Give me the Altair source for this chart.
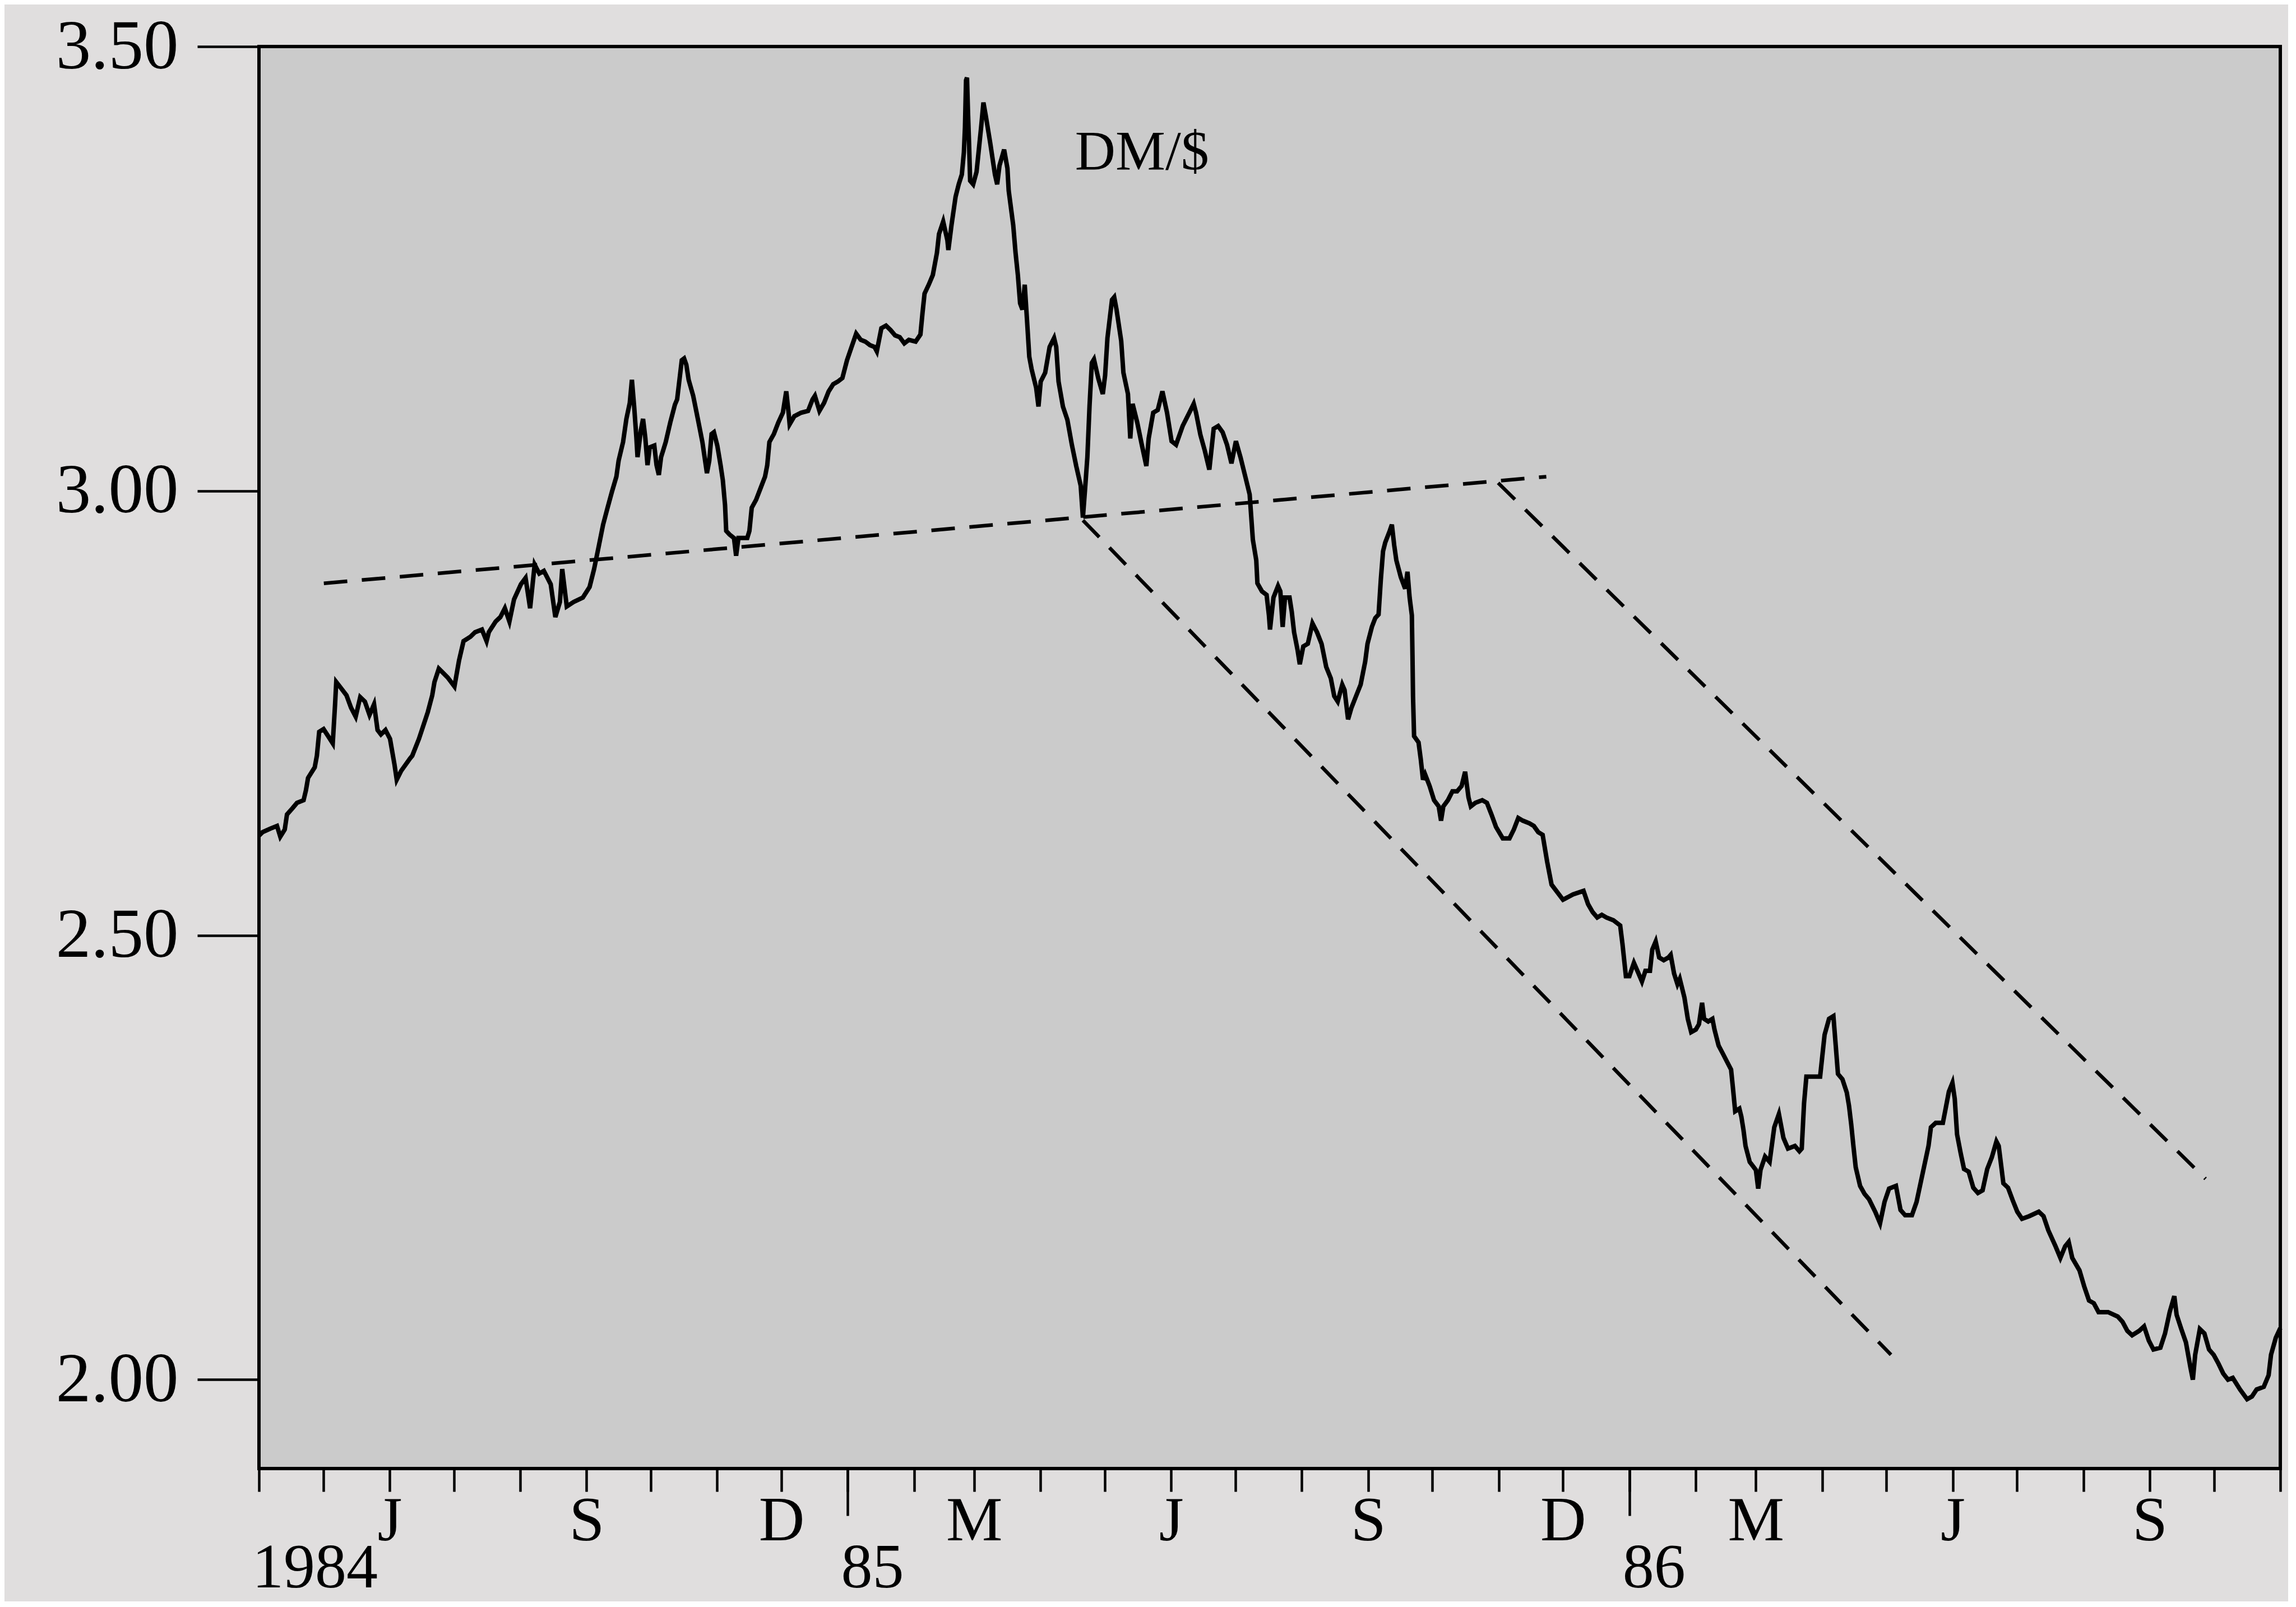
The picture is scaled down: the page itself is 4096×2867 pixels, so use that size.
import altair as alt
import pandas as pd

# ---------------- data ----------------
# position along the time axis, in months since 1 April 1984 (read off the monthly ticks)
month_pos = [
    0.000, 0.056, 0.177, 0.280, 0.332, 0.401, 0.436, 0.522, 0.591, 0.695, 0.730, 0.764, 0.868, 0.902, 0.937,
    1.006, 1.075, 1.144, 1.179, 1.196, 1.248, 1.351, 1.420, 1.489, 1.558, 1.628, 1.697, 1.766, 1.818, 1.869, 1.938,
    2.007, 2.077, 2.111, 2.180, 2.318, 2.353, 2.457, 2.595, 2.664, 2.698, 2.767, 2.836, 2.906,
    3.009, 3.078, 3.147, 3.251, 3.320, 3.424, 3.493, 3.527, 3.631, 3.700, 3.769, 3.838, 3.907,
    4.011, 4.080, 4.149, 4.218, 4.287, 4.356, 4.460, 4.529, 4.598, 4.633, 4.702, 4.805, 4.943,
    5.047, 5.116, 5.185, 5.257, 5.326, 5.395, 5.464, 5.499, 5.568, 5.620, 5.672, 5.706, 5.741, 5.775, 5.793,
    5.844, 5.879, 5.914, 5.948, 5.983,
    6.052, 6.086, 6.121, 6.155, 6.224, 6.293, 6.363, 6.397, 6.432, 6.466, 6.501, 6.535, 6.570, 6.639, 6.708,
    6.777, 6.846, 6.881, 6.915, 6.950,
    7.001, 7.053, 7.088, 7.122, 7.140, 7.191, 7.261, 7.295, 7.330, 7.399, 7.468, 7.502, 7.537, 7.606, 7.675,
    7.744, 7.779, 7.813, 7.882, 7.952,
    8.021, 8.072, 8.107, 8.124, 8.193, 8.297, 8.400, 8.469, 8.504, 8.573, 8.642, 8.711, 8.780, 8.849, 8.918, 8.988,
    9.057, 9.126, 9.195, 9.264, 9.333, 9.402, 9.437, 9.506, 9.575, 9.644, 9.713, 9.782, 9.851, 9.920,
    10.024, 10.104, 10.138, 10.173, 10.242, 10.311, 10.380, 10.414, 10.484, 10.553, 10.570, 10.622, 10.691,
    10.743, 10.794, 10.829, 10.846, 10.864, 10.881, 10.898, 10.915, 10.933, 10.984,
    11.036, 11.105, 11.140, 11.174, 11.243, 11.313, 11.347, 11.382, 11.451, 11.502, 11.520, 11.589, 11.623,
    11.658, 11.692, 11.727, 11.762, 11.796, 11.831, 11.865, 11.934, 11.969,
    12.003, 12.072, 12.141, 12.211, 12.245, 12.280, 12.349, 12.418, 12.487, 12.556, 12.625, 12.660, 12.694,
    12.729, 12.763, 12.798, 12.832, 12.901, 12.970,
    13.005, 13.040, 13.109, 13.143, 13.178, 13.247, 13.281, 13.350, 13.385, 13.419, 13.489, 13.558, 13.627,
    13.661, 13.730, 13.799, 13.868, 13.938,
    14.007, 14.076, 14.179, 14.283, 14.352, 14.387, 14.456, 14.525, 14.594, 14.663, 14.732, 14.801, 14.870, 14.939,
    15.008, 15.077, 15.146, 15.215, 15.263, 15.315, 15.332, 15.401, 15.470, 15.505, 15.522, 15.574, 15.643,
    15.678, 15.712, 15.747, 15.816, 15.850, 15.885, 15.937, 15.971,
    16.023, 16.092, 16.161, 16.230, 16.299, 16.368, 16.438, 16.489, 16.541, 16.610, 16.645, 16.697, 16.748,
    16.817, 16.887, 16.956, 16.990,
    17.059, 17.111, 17.163, 17.197, 17.232, 17.267, 17.336, 17.370, 17.405, 17.439, 17.508, 17.577, 17.612,
    17.646, 17.681, 17.690, 17.698, 17.715, 17.785, 17.819, 17.854, 17.888, 17.957,
    18.026, 18.095, 18.130, 18.165, 18.234, 18.303, 18.372, 18.441, 18.493, 18.544, 18.579, 18.648, 18.752,
    18.821, 18.890, 18.959,
    19.063, 19.166, 19.235, 19.304, 19.373, 19.477, 19.546, 19.615, 19.684, 19.753, 19.822,
    20.000, 20.150, 20.309, 20.378, 20.447, 20.516, 20.585, 20.654, 20.758, 20.862, 20.896, 20.948,
    21.000, 21.069, 21.138, 21.190, 21.242, 21.311, 21.345, 21.397, 21.449, 21.518, 21.587, 21.622, 21.673,
    21.725, 21.760, 21.829, 21.881, 21.932,
    22.001, 22.053, 22.105, 22.140, 22.209, 22.278, 22.312, 22.381, 22.451, 22.520, 22.589, 22.623, 22.658,
    22.727, 22.761, 22.796, 22.830, 22.900,
    23.003, 23.038, 23.072, 23.141, 23.210, 23.280, 23.349, 23.418, 23.487, 23.590, 23.659, 23.694, 23.728,
    23.763, 23.832, 23.970,
    24.039, 24.108, 24.177, 24.212, 24.247, 24.316, 24.385, 24.419, 24.454, 24.488, 24.523, 24.592, 24.661,
    24.730, 24.834, 24.903, 24.972,
    25.041, 25.145, 25.214, 25.283, 25.386, 25.455, 25.524, 25.636, 25.672, 25.744, 25.852, 25.888, 25.942, 25.996,
    26.032, 26.068, 26.123, 26.177, 26.249, 26.321, 26.393, 26.465, 26.537, 26.609, 26.681, 26.717, 26.753,
    26.789, 26.861, 26.933,
    27.005, 27.077, 27.185, 27.329, 27.401, 27.473, 27.582, 27.654, 27.726, 27.780, 27.834, 27.942,
    28.014, 28.086, 28.158, 28.230, 28.374, 28.519, 28.591, 28.663, 28.735, 28.843, 28.915, 28.987,
    29.059, 29.167, 29.239, 29.311, 29.383, 29.419, 29.491, 29.564, 29.636, 29.672, 29.708, 29.780, 29.852,
    29.924, 29.996,
    30.068, 30.140, 30.212, 30.284, 30.392, 30.500, 30.572, 30.644, 30.752, 30.824, 30.860, 30.932, 31.000,
]

# Deutsche Mark per US dollar
dm_per_usd = [
    2.612, 2.616, 2.620, 2.623, 2.611, 2.619, 2.636, 2.643, 2.649, 2.652, 2.663, 2.677, 2.689, 2.702, 2.729,
    2.732, 2.724, 2.716, 2.760, 2.785, 2.780, 2.770, 2.756, 2.746, 2.768, 2.763, 2.748, 2.760, 2.731, 2.726, 2.731,
    2.721, 2.692, 2.675, 2.685, 2.699, 2.702, 2.721, 2.751, 2.770, 2.785, 2.800, 2.795, 2.790,
    2.780, 2.809, 2.831, 2.836, 2.841, 2.844, 2.831, 2.841, 2.853, 2.858, 2.868, 2.853, 2.878,
    2.895, 2.902, 2.868, 2.917, 2.907, 2.910, 2.895, 2.858, 2.875, 2.912, 2.870, 2.875, 2.880,
    2.892, 2.912, 2.936, 2.962, 2.981, 2.999, 3.016, 3.034, 3.055, 3.081, 3.099, 3.125, 3.094, 3.060, 3.038,
    3.068, 3.081, 3.060, 3.029, 3.049,
    3.051, 3.029, 3.018, 3.038, 3.055, 3.077, 3.097, 3.103, 3.125, 3.147, 3.149, 3.142, 3.125, 3.107, 3.081,
    3.055, 3.020, 3.034, 3.064, 3.066,
    3.051, 3.029, 3.012, 2.984, 2.955, 2.951, 2.947, 2.927, 2.947, 2.947, 2.947, 2.955, 2.981, 2.990, 3.003,
    3.016, 3.029, 3.055, 3.064, 3.077,
    3.088, 3.112, 3.088, 3.075, 3.084, 3.088, 3.090, 3.103, 3.107, 3.090, 3.099, 3.112, 3.120, 3.123, 3.127, 3.147,
    3.162, 3.177, 3.170, 3.168, 3.164, 3.162, 3.157, 3.183, 3.186, 3.181, 3.175, 3.173, 3.166, 3.170,
    3.168, 3.176, 3.200, 3.222, 3.232, 3.243, 3.268, 3.289, 3.303, 3.282, 3.271, 3.299, 3.331,
    3.345, 3.356, 3.381, 3.409, 3.462, 3.465, 3.426, 3.391, 3.349, 3.345,
    3.359, 3.409, 3.437, 3.423, 3.391, 3.356, 3.345, 3.366, 3.384, 3.363, 3.338, 3.299, 3.268,
    3.243, 3.211, 3.204, 3.232, 3.193, 3.151, 3.137, 3.116, 3.095,
    3.123, 3.133, 3.162, 3.172, 3.162, 3.123, 3.095, 3.080, 3.052, 3.028, 3.006, 2.970, 3.003,
    3.038, 3.095, 3.144, 3.148, 3.126, 3.109,
    3.130, 3.172, 3.215, 3.218, 3.204, 3.169, 3.133, 3.109, 3.059, 3.098, 3.077, 3.052, 3.028,
    3.059, 3.088, 3.091, 3.112, 3.088,
    3.056, 3.052, 3.073, 3.088, 3.098, 3.088, 3.063, 3.045, 3.024, 3.070, 3.073, 3.066, 3.052, 3.031,
    3.056, 3.038, 3.017, 2.996, 2.945, 2.922, 2.896, 2.887, 2.883, 2.860, 2.844, 2.880, 2.893,
    2.887, 2.847, 2.880, 2.880, 2.864, 2.841, 2.821, 2.805,
    2.825, 2.828, 2.851, 2.841, 2.828, 2.802, 2.789, 2.769, 2.763, 2.782, 2.776, 2.743, 2.756,
    2.769, 2.782, 2.808, 2.828,
    2.847, 2.857, 2.861, 2.900, 2.932, 2.942, 2.955, 2.962, 2.939, 2.922, 2.903, 2.890, 2.909,
    2.880, 2.860, 2.815, 2.769, 2.724, 2.717, 2.698, 2.675, 2.681, 2.668,
    2.652, 2.645, 2.629, 2.645, 2.652, 2.662, 2.662, 2.668, 2.684, 2.655, 2.645, 2.649, 2.652,
    2.649, 2.636, 2.622,
    2.609, 2.609, 2.619, 2.632, 2.629, 2.626, 2.623, 2.616, 2.613, 2.583, 2.557,
    2.540, 2.546, 2.550, 2.535, 2.526, 2.520, 2.523, 2.520, 2.517, 2.511, 2.490, 2.454,
    2.454, 2.469, 2.457, 2.448, 2.460, 2.460, 2.484, 2.493, 2.475, 2.472, 2.475, 2.478, 2.457,
    2.445, 2.451, 2.430, 2.406, 2.391,
    2.394, 2.400, 2.424, 2.406, 2.403, 2.406, 2.394, 2.376, 2.367, 2.358, 2.349, 2.326, 2.302,
    2.305, 2.296, 2.281, 2.263, 2.245,
    2.236, 2.215, 2.236, 2.251, 2.245, 2.284, 2.299, 2.272, 2.260, 2.263, 2.257, 2.260, 2.311,
    2.341, 2.341, 2.341,
    2.388, 2.406, 2.409, 2.376, 2.344, 2.338, 2.323, 2.308, 2.287, 2.263, 2.239, 2.218, 2.209,
    2.203, 2.188, 2.176, 2.200,
    2.215, 2.218, 2.191, 2.185, 2.185, 2.200, 2.224, 2.263, 2.284, 2.289, 2.289, 2.303, 2.324, 2.334,
    2.316, 2.276, 2.255, 2.237, 2.234, 2.216, 2.210, 2.213, 2.237, 2.250, 2.268, 2.263, 2.242,
    2.221, 2.216, 2.202,
    2.189, 2.181, 2.184, 2.189, 2.184, 2.168, 2.150, 2.137, 2.150, 2.155, 2.137, 2.123,
    2.105, 2.089, 2.086, 2.076, 2.076, 2.071, 2.065, 2.055, 2.050, 2.055, 2.060, 2.044,
    2.034, 2.036, 2.052, 2.076, 2.094, 2.073, 2.057, 2.042, 2.013, 2.000, 2.028, 2.057, 2.052,
    2.034, 2.028,
    2.018, 2.007, 2.000, 2.002, 1.989, 1.978, 1.981, 1.989, 1.992, 2.005, 2.028, 2.047, 2.058,
]

# dashed trend lines: name, start/end position (months since 1 Apr 1984), start/end level
trend_names = ["neckline", "lower channel", "upper channel"]
trend_start_pos = [1.01, 12.66, 18.99]
trend_end_pos = [19.74, 25.07, 29.87]
trend_start_val = [2.896, 2.967, 3.009]
trend_end_val = [3.016, 2.028, 2.226]

label_text = ["DM/$"]
label_pos = [13.56]
label_val = [3.362]

# year labels, placed at the start of the axis and at each turn of the year
year_labels = ["1984", "85", "86"]
year_label_pos = [0, 9, 21]

month_letters = {2: "M", 5: "J", 8: "S", 11: "D"}  # 0-based months as Vega uses them

# ---------------- helpers ----------------
START = pd.Timestamp(1984, 4, 1)


def to_date(t):
    m = int(t)
    a = START + pd.DateOffset(months=m)
    b = START + pd.DateOffset(months=m + 1)
    return (a + (b - a) * (t - m)).round("h")


df = pd.DataFrame({"date": [to_date(t) for t in month_pos], "rate": dm_per_usd})

trend_rows = []
for n, s, e, sv, ev in zip(trend_names, trend_start_pos, trend_end_pos, trend_start_val, trend_end_val):
    trend_rows.append({"trend": n, "date": to_date(s), "rate": sv})
    trend_rows.append({"trend": n, "date": to_date(e), "rate": ev})
trend_df = pd.DataFrame(trend_rows)

label_df = pd.DataFrame({"text": label_text, "date": [to_date(t) for t in label_pos], "rate": label_val})
year_df = pd.DataFrame({"text": year_labels, "date": [to_date(t) for t in year_label_pos]})

FONT = "Liberation Serif"
PLOT_W, PLOT_H = 3606, 2537

x_scale = alt.Scale(domain=[alt.DateTime(year=1984, month=4, date=1),
                            alt.DateTime(year=1986, month=11, date=1)])
y_scale = alt.Scale(domain=[1.9, 3.5], nice=False, zero=False)

month_ticks = [alt.DateTime(year=1984 + (3 + i) // 12, month=(3 + i) % 12 + 1, date=1) for i in range(32)]
year_starts = [alt.DateTime(year=1985, month=1, date=1), alt.DateTime(year=1986, month=1, date=1)]

month_expr = " : ".join(f"month(datum.value)=={k} ? '{v}'" for k, v in month_letters.items()) + " : ''"

# short monthly ticks with month initials
month_axis = alt.Axis(
    values=month_ticks, orient="bottom", title=None, domain=False, grid=False,
    tickSize=41, tickWidth=4.5, tickColor="black",
    labelExpr=month_expr, labelFont=FONT, labelFontSize=113, labelColor="black",
    labelPadding=-3, labelOverlap=False, labelFlush=False, labelBound=False, labelAlign="center",
    labelLimit=0,
)

# long ticks at the turn of each year (no labels)
year_tick_axis = alt.Axis(
    values=year_starts, orient="bottom", title=None, domain=False, grid=False,
    tickSize=84, tickWidth=4.5, tickColor="black", labels=False,
)

y_axis = alt.Axis(
    values=[2.0, 2.5, 3.0, 3.5], format=".2f", title=None, domain=False, grid=False,
    orient="left", tickSize=110, tickWidth=4.5, tickColor="black",
    labelFont=FONT, labelFontSize=125, labelColor="black", labelPadding=34,
    labelBaseline="middle", labelFlush=False, labelOverlap=False, labelBound=False,
    labelLimit=0,
)

trend_layer = alt.Chart(trend_df).mark_line(
    color="black", strokeWidth=6.5, strokeDash=[42, 26], strokeCap="butt"
).encode(
    x=alt.X("date:T", scale=x_scale, axis=year_tick_axis),
    y=alt.Y("rate:Q", scale=y_scale, axis=y_axis),
    detail="trend:N",
)

line_layer = alt.Chart(df).mark_line(color="black", strokeWidth=8).encode(
    x=alt.X("date:T", scale=x_scale, axis=month_axis),
    y=alt.Y("rate:Q", scale=y_scale, axis=y_axis),
)

text_layer = alt.Chart(label_df).mark_text(
    font=FONT, fontSize=100, align="center", baseline="alphabetic", color="black"
).encode(
    x=alt.X("date:T", scale=x_scale, axis=None),
    y=alt.Y("rate:Q", scale=y_scale, axis=y_axis),
    text="text:N",
)

# second row of the time axis: the years, left-aligned on their ticks
year_layer = alt.Chart(year_df).mark_text(
    font=FONT, fontSize=112, align="left", baseline="alphabetic", color="black", dx=-12
).encode(
    x=alt.X("date:T", scale=x_scale, axis=None),
    y=alt.value(PLOT_H + 212),
    text="text:N",
)

chart = (
    alt.layer(trend_layer, line_layer, text_layer, year_layer)
    .resolve_axis(x="independent")
    .properties(
        width=PLOT_W, height=PLOT_H,
        autosize=alt.AutoSizeParams(type="none"),
        padding={"left": 454, "top": 75, "right": 14, "bottom": 237},
    )
    .configure(background="#e0dede")
    .configure_view(fill="#cbcbcb", stroke="black", strokeWidth=6)
)

chart.save("out.html", embed_options={"renderer": "svg", "actions": False})
